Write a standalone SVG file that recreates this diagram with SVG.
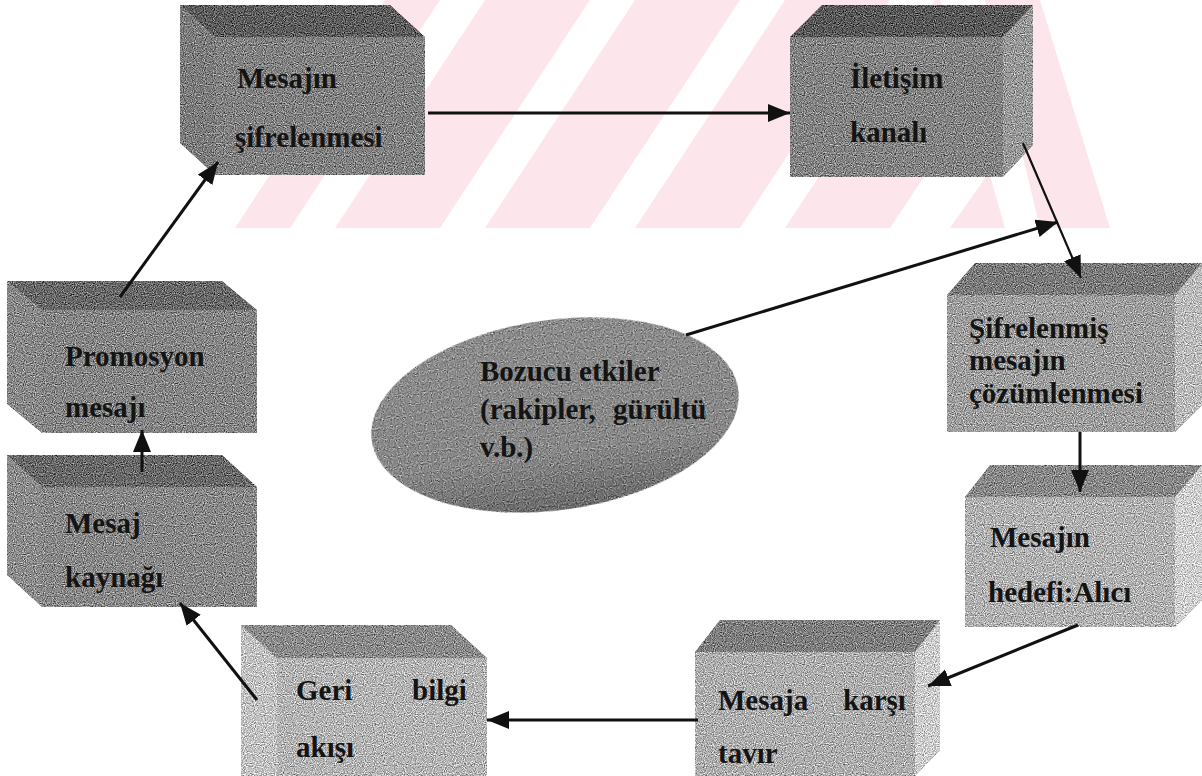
<svg xmlns="http://www.w3.org/2000/svg" width="1202" height="776" viewBox="0 0 1202 776">
  <defs>
    <style>
      .lbl { font-family: "Liberation Serif", "Times New Roman", serif; font-size: 29px; font-weight: bold; fill: #141414; }
      .wire { stroke: #111; stroke-width: 3; fill: none; marker-end: url(#head); }
      .wm { fill: #fde6eb; }
      .gap { fill: #ffffff; }
    </style>
    <marker id="head" markerUnits="userSpaceOnUse" markerWidth="24" markerHeight="20" refX="22" refY="9" orient="auto">
      <path d="M0,0 L22,9 L0,18 z" fill="#111"/>
    </marker>
    <linearGradient id="ovalShade" x1="0" y1="0" x2="0" y2="1">
      <stop offset="0" stop-color="#8e8e8e"/>
      <stop offset="0.7" stop-color="#8a8a8a"/>
      <stop offset="1" stop-color="#6c6c6c"/>
    </linearGradient>
    <!-- speckled print texture for the box faces -->
    <filter id="grain" x="-2%" y="-2%" width="104%" height="104%" color-interpolation-filters="sRGB">
      <feTurbulence type="fractalNoise" baseFrequency="0.9" numOctaves="1" seed="4" result="n"/>
      <feColorMatrix in="n" type="matrix" values="0.33 0.33 0.33 0 0  0.33 0.33 0.33 0 0  0.33 0.33 0.33 0 0  0 0 0 0 1" result="g"/>
      <feComponentTransfer in="g" result="c">
        <feFuncR type="linear" slope="2.8" intercept="-0.9"/>
        <feFuncG type="linear" slope="2.8" intercept="-0.9"/>
        <feFuncB type="linear" slope="2.8" intercept="-0.9"/>
      </feComponentTransfer>
      <feComposite in="SourceGraphic" in2="c" operator="arithmetic" k1="0" k2="1" k3="0.7" k4="-0.35" result="m"/>
      <feComposite in="m" in2="SourceAlpha" operator="in"/>
    </filter>
  </defs>

  <rect width="1202" height="776" fill="#fff"/>

  <!-- background watermark: pink band crossed by white slanted gaps -->
  <g id="watermark">
    <polygon class="wm" points="235,228 385,0 1040,0 1110,228"/>
    <polygon class="gap" points="290,228 440,0 485,0 335,228"/>
    <polygon class="gap" points="440,228 590,0 635,0 485,228"/>
    <polygon class="gap" points="590,228 740,0 785,0 635,228"/>
    <polygon class="gap" points="740,228 890,0 935,0 785,228"/>
    <polygon class="gap" points="890,228 985,85 1005,150 950,228"/>
    <polygon class="gap" points="940,0 985,0 1040,228 1005,228"/>
  </g>

  <!-- Mesajın şifrelenmesi -->
  <g id="node-sifreleme">
    <g filter="url(#grain)">
      <polygon points="180,5 390,5 425,37 215,37" fill="#5e5e5e"/>
      <polygon points="180,5 215,37 215,175 180,143" fill="#7e7e7e"/>
      <rect x="215" y="37" width="210" height="138" fill="#838383"/>
    </g>
    <text class="lbl" x="237" y="88">Mesajın</text>
    <text class="lbl" x="235" y="147">şifrelenmesi</text>
  </g>

  <!-- İletişim kanalı -->
  <g id="node-kanal">
    <g filter="url(#grain)">
      <polygon points="790,37 822,5 1033,5 1003,37" fill="#5a5a5a"/>
      <polygon points="1003,37 1033,5 1033,145 1003,177" fill="#9a9a9a"/>
      <rect x="790" y="37" width="213" height="140" fill="#858585"/>
    </g>
    <text class="lbl" x="850" y="88">İletişim</text>
    <text class="lbl" x="850" y="142">kanalı</text>
  </g>

  <!-- Promosyon mesajı -->
  <g id="node-promosyon">
    <g filter="url(#grain)">
      <polygon points="7,281 222,281 257,310 42,310" fill="#6a6a6a"/>
      <polygon points="7,281 42,310 42,433 7,404" fill="#8a8a8a"/>
      <rect x="42" y="310" width="215" height="123" fill="#878787"/>
    </g>
    <text class="lbl" x="65" y="366">Promosyon</text>
    <text class="lbl" x="65" y="417">mesajı</text>
  </g>

  <!-- Mesaj kaynağı -->
  <g id="node-kaynak">
    <g filter="url(#grain)">
      <polygon points="7,455 222,455 257,487 42,487" fill="#6a6a6a"/>
      <polygon points="7,455 42,487 42,607 7,575" fill="#8e8e8e"/>
      <rect x="42" y="487" width="215" height="120" fill="#8a8a8a"/>
    </g>
    <text class="lbl" x="65" y="533">Mesaj</text>
    <text class="lbl" x="65" y="587">kaynağı</text>
  </g>

  <!-- Şifrelenmiş mesajın çözümlenmesi -->
  <g id="node-cozumleme">
    <g filter="url(#grain)">
      <polygon points="947,295 975,263 1202,263 1175,295" fill="#7c7c7c"/>
      <polygon points="1175,295 1202,263 1202,405 1175,432" fill="#bdbdbd"/>
      <rect x="947" y="295" width="228" height="137" fill="#a0a0a0"/>
    </g>
    <text class="lbl" x="969" y="338">Şifrelenmiş</text>
    <text class="lbl" x="969" y="370">mesajın</text>
    <text class="lbl" x="969" y="403">çözümlenmesi</text>
  </g>

  <!-- Mesajın hedefi:Alıcı -->
  <g id="node-alici">
    <g filter="url(#grain)">
      <polygon points="965,497 990,465 1202,465 1175,497" fill="#8a8a8a"/>
      <polygon points="1175,497 1202,465 1202,600 1175,627" fill="#d2d2d2"/>
      <rect x="965" y="497" width="210" height="130" fill="#b3b3b3"/>
    </g>
    <text class="lbl" x="990" y="547">Mesajın</text>
    <text class="lbl" x="988" y="602">hedefi:Alıcı</text>
  </g>

  <!-- Mesaja karşı tavır -->
  <g id="node-tavir">
    <g filter="url(#grain)">
      <polygon points="695,652 720,620 940,620 915,652" fill="#808080"/>
      <polygon points="915,652 940,620 940,750 915,776" fill="#cfcfcf"/>
      <rect x="695" y="652" width="220" height="124" fill="#b0b0b0"/>
    </g>
    <text class="lbl" x="718" y="710">Mesaja</text>
    <text class="lbl" x="843" y="710">karşı</text>
    <text class="lbl" x="718" y="763">tavır</text>
  </g>

  <!-- Geri bilgi akışı -->
  <g id="node-geribildirim">
    <g filter="url(#grain)">
      <polygon points="241,625 451,625 487,658 277,658" fill="#8c8c8c"/>
      <polygon points="241,625 277,658 277,776 241,776" fill="#c4c4c4"/>
      <rect x="277" y="658" width="210" height="118" fill="#b6b6b6"/>
    </g>
    <text class="lbl" x="296" y="700">Geri</text>
    <text class="lbl" x="412" y="700">bilgi</text>
    <text class="lbl" x="296" y="757">akışı</text>
  </g>

  <!-- Bozucu etkiler -->
  <g id="node-bozucu">
    <ellipse cx="555" cy="415" rx="185" ry="95" transform="rotate(-8 555 415)" fill="url(#ovalShade)" filter="url(#grain)"/>
    <text class="lbl" x="480" y="381">Bozucu etkiler</text>
    <text class="lbl" x="480" y="419">(rakipler,</text>
    <text class="lbl" x="613" y="419">gürültü</text>
    <text class="lbl" x="480" y="457">v.b.)</text>
  </g>

  <!-- connectors, drawn over the boxes -->
  <g id="connectors">
    <line class="wire" x1="428" y1="113" x2="790" y2="113"/>
    <line class="wire" x1="1023" y1="143" x2="1081" y2="278" style="stroke-width:2.2"/>
    <line class="wire" x1="686" y1="335" x2="1058" y2="222"/>
    <line class="wire" x1="1080" y1="432" x2="1080" y2="492"/>
    <line class="wire" x1="1078" y1="625" x2="928" y2="686"/>
    <line class="wire" x1="698" y1="720" x2="487" y2="720"/>
    <line class="wire" x1="257" y1="700" x2="180" y2="603"/>
    <line class="wire" x1="142" y1="472" x2="142" y2="430"/>
    <line class="wire" x1="120" y1="297" x2="218" y2="162"/>
  </g>
</svg>
